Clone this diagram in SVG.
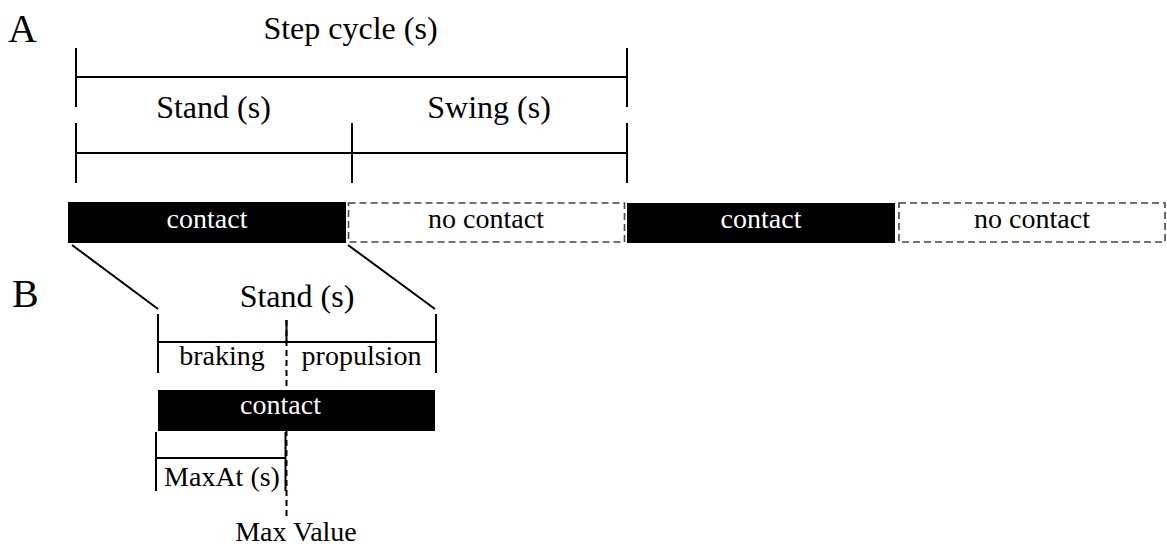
<svg xmlns="http://www.w3.org/2000/svg" width="1167" height="548" viewBox="0 0 1167 548">
<style>
text{font-family:'Liberation Serif','Times New Roman',Times,'DejaVu Serif',serif;fill:#000;text-anchor:middle}
.big{font-size:40px;text-anchor:start}
.t32{font-size:32px}
.t28{font-size:28px}
.w{fill:#fff}
.ln{stroke:#000;stroke-width:2;fill:none}
.dash{stroke:#444;stroke-width:1.6;stroke-dasharray:7 4;fill:#fff}
.vd{stroke:#000;stroke-width:2;stroke-dasharray:6 4;fill:none}
</style>
<rect width="1167" height="548" fill="#fff"/>
<text class="big" x="8" y="42" font-family="Liberation Serif, serif">A</text>
<text class="big" x="12" y="307" font-family="Liberation Serif, serif">B</text>
<g id="connectors">
<path class="ln" d="M76 48V107M627 48V107M76 77H627"/>
<path class="ln" d="M76 123V183M352 123V183M627 123V183M76 153H627"/>
<path class="ln" d="M72 245L158 309M348 245L435 309"/>
<path class="ln" d="M158 314V373M436 314V373M158 342H436M286.5 320V342"/>
<path class="vd" d="M286.5 320V518"/>
<path class="ln" d="M156 432V491M285.5 432V491M156 458H286"/>
</g>
<g id="label-step-cycle"><text class="t32" x="350.5" y="39">Step cycle (s)</text></g>
<g id="label-stand-a"><text class="t32" x="213.5" y="118">Stand (s)</text></g>
<g id="label-swing"><text class="t32" x="489" y="118">Swing (s)</text></g>
<g id="contact-1"><rect x="68" y="202" width="278" height="41" fill="#000"/><text class="t28 w" x="207" y="228">contact</text></g>
<g id="nocontact-1"><rect class="dash" x="348.5" y="203" width="276" height="39"/><text class="t28" x="486" y="228">no contact</text></g>
<g id="contact-2"><rect x="627" y="203" width="268" height="40" fill="#000"/><text class="t28 w" x="761" y="228">contact</text></g>
<g id="nocontact-2"><rect class="dash" x="899" y="203" width="266" height="39"/><text class="t28" x="1032" y="228">no contact</text></g>
<g id="label-stand-b"><text class="t32" x="297" y="307">Stand (s)</text></g>
<g id="label-braking"><text class="t28" x="222" y="365">braking</text></g>
<g id="label-propulsion"><text class="t28" x="361.5" y="365">propulsion</text></g>
<g id="contact-b"><rect x="158" y="390" width="277" height="41" fill="#000"/><text class="t28 w" x="280.5" y="414">contact</text></g>
<g id="label-maxat"><text class="t28" x="222" y="486">MaxAt (s)</text></g>
<g id="label-maxvalue"><text class="t28" x="296" y="541">Max Value</text></g>
</svg>
